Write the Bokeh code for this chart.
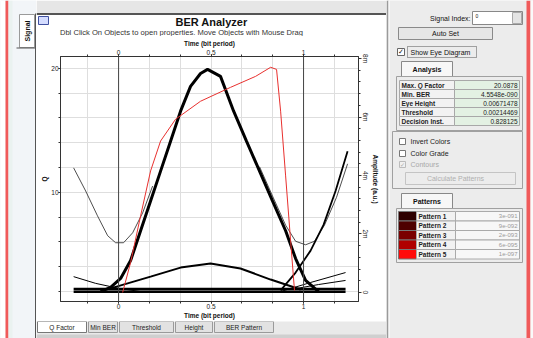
import math
from bokeh.plotting import figure
from bokeh.layouts import row, column
from bokeh.models import Range1d, LinearAxis, FixedTicker, Span
from bokeh.core.properties import value
from bokeh.embed import file_html
from bokeh.resources import INLINE

# ---------------- data ----------------
time_major = [0, 0.5, 1]
time_minor = [-2/6, -1/6, 0, 1/6, 2/6, 3/6, 4/6, 5/6, 1, 7/6, 8/6]
time_grid = [-1/6, 0, 1/6, 2/6, 3/6, 4/6, 5/6, 1, 7/6]
q_major = [10, 20]
q_minor = [2, 4, 6, 8, 10, 12, 14, 16, 18, 20]
amp_major = [0, 2, 4, 6, 8]
amp_minor = [0, 0.4, 0.8, 1.2, 1.6, 2, 2.4, 2.8, 3.2, 3.6, 4, 4.4, 4.8, 5.2, 5.6, 6, 6.4, 6.8, 7.2, 7.6, 8]
amp_labels = {0: "0", 2: "2m", 4: "4m", 6: "6m", 8: "8m"}

# eye traces: time (bit period) / amplitude (m a.u.)
pulse_t = [-0.097, -0.043, 0.011, 0.065, 0.119, 0.173, 0.227, 0.281, 0.335, 0.389, 0.443, 0.481,
           0.551, 0.622, 0.692, 0.762, 0.832, 0.903, 0.957, 1.011, 1.081]
pulse_a = [0.03, 0.17, 0.48, 1.09, 2.11, 3.13, 4.15, 5.17, 6.20, 7.05, 7.49, 7.63,
           7.39, 6.20, 5.17, 4.15, 3.13, 2.11, 1.16, 0.41, 0.03]
uleft_t = [-0.243, -0.178, -0.114, -0.059, -0.016, 0.027, 0.076, 0.130, 0.184]
uleft_a = [4.26, 3.47, 2.62, 1.94, 1.70, 1.70, 2.04, 2.72, 3.64]
uright_t = [0.762, 0.832, 0.903, 0.957, 1.011, 1.059, 1.113, 1.178, 1.238]
uright_a = [4.30, 3.30, 2.30, 1.75, 1.63, 1.75, 2.30, 3.25, 4.40]
next_t = [0.876, 0.957, 1.038, 1.108, 1.173, 1.238]
next_a = [0.07, 0.68, 1.43, 2.31, 3.47, 4.83]
hump_t = [-0.043, 0.173, 0.335, 0.497, 0.659, 0.822, 0.984]
hump_a = [0.14, 0.54, 0.85, 0.99, 0.82, 0.44, 0.10]
ltail_t = [-0.243, -0.124, 0.0, 0.119]
ltail_a = [0.54, 0.31, 0.14, 0.03]
rtail1_t = [0.876, 1.038, 1.227]
rtail1_a = [0.03, 0.34, 0.68]
rtail2_t = [0.930, 1.081, 1.227]
rtail2_a = [0.10, 0.27, 0.41]
rail_t = [-0.243, 1.227]
rail1_a = [0.12, 0.12]
rail2_a = [0.02, 0.02]

# Q factor vs time (red)
q_t = [0.022, 0.065, 0.119, 0.173, 0.227, 0.308, 0.443, 0.605, 0.741, 0.822, 0.854, 0.876, 0.903, 0.930, 0.951]
q_v = [1.93, 4.34, 8.11, 11.73, 14.14, 15.90, 17.35, 18.47, 19.36, 20.09, 19.92, 16.55, 11.33, 6.10, 2.09]

analysis_names = ["Max. Q Factor", "Min. BER", "Eye Height", "Threshold", "Decision Inst."]
analysis_values = ["20.0878", "4.5548e-090", "0.00671478", "0.00214469", "0.828125"]
pattern_names = ["Pattern 1", "Pattern 2", "Pattern 3", "Pattern 4", "Pattern 5"]
pattern_values = ["3e-091", "9e-092", "2e-093", "6e-095", "1e-097"]
pattern_colors = ["#2e0000", "#4e0000", "#7a0000", "#b00000", "#ff0a0a"]
tab_names = ["Q Factor", "Min BER", "Threshold", "Height", "BER Pattern"]

FONT = "Liberation Sans"
W, H = 533, 338
PX0, PX1 = 36, 386          # main panel columns
HEAD = 36                   # header bottom
TABS = 321                  # tabs top
FL, FR, FT, FB = 60, 358, 55, 301   # plot frame (window pixels)


def chrome(x0, x1, y0, y1, bg):
    f = figure(width=x1 - x0, height=y1 - y0, x_range=Range1d(x0, x1), y_range=Range1d(y1, y0),
               output_backend="svg", toolbar_location=None, title=None,
               x_axis_location=None, y_axis_location=None, frame_align=False,
               min_border=0, min_border_left=0, min_border_right=0, min_border_top=0, min_border_bottom=0)
    for g in f.grid:
        g.visible = False
    f.outline_line_color = None
    f.background_fill_color = bg
    f.border_fill_color = bg
    return f


def R(f, l, t, r, b, fill=None, line=None, lw=1, dash="solid"):
    f.quad(left=[l], right=[r], top=[t], bottom=[b],
           fill_color=fill, fill_alpha=1 if fill else 0,
           line_color=line, line_alpha=1 if line else 0, line_width=lw, line_dash=dash)


def T(f, s, x, y, size=7, bold=False, align="left", color="#111111", angle=0, font=FONT):
    f.text(x=[x], y=[y], text=[s], text_font=value(font), text_font_size=value(f"{size}px"),
           text_font_style="bold" if bold else "normal", text_align=align,
           text_baseline="middle", text_color=color, angle=angle)


# ---------------- left strip ----------------
lf = chrome(0, PX0, 0, H, "#f2f5f8")
R(lf, 0, 0, 5, H, fill="#ffffff")
R(lf, 5, 0, 8, H, fill="#f05a5a")
R(lf, 8, 0, 12, H, fill="#eaf2f0")
R(lf, 34.5, 13, 36, H, fill="#555555")
R(lf, 19, 14, 34, 47, fill="white", line="#9a9a9a")
R(lf, 16, 47, 34.5, 48, fill="#555555")
T(lf, "Signal", 26.5, 30.5, size=7, bold=True, align="center", angle=math.pi / 2)

# ---------------- header ----------------
hf = chrome(PX0, PX1, 0, HEAD, "white")
R(hf, PX0, 0, PX1, 12.5, fill="#e6e6e6")
R(hf, PX0, 12.5, PX1, 14.5, fill="#555555")
R(hf, 38, 16, 48, 24, fill="#d4dcff", line="#4050a0")
T(hf, "BER Analyzer", 211, 21, size=11, bold=True, align="center")
T(hf, "Dbl Click On Objects to open properties.  Move Objects with Mouse Drag", 182, 31.5,
  size=7.6, align="center", color="#333333")

# ---------------- plot ----------------
p = figure(width=PX1 - PX0, height=TABS - HEAD, output_backend="svg", toolbar_location=None, title=None,
           x_range=Range1d(-0.314, 1.297), y_range=Range1d(1.2, 20.96), frame_align=False,
           min_border_left=FL - PX0, min_border_right=PX1 - FR,
           min_border_top=FT - HEAD, min_border_bottom=TABS - FB)
p.extra_y_ranges = {"amp": Range1d(-0.31, 8.07)}
p.background_fill_color = "white"
p.border_fill_color = "white"
p.outline_line_color = "#444444"
p.outline_line_width = 1


def style(ax):
    ax.axis_line_color = "#333333"
    ax.major_tick_line_color = "#333333"
    ax.minor_tick_line_color = "#333333"
    ax.major_tick_out = 2
    ax.major_tick_in = 0
    ax.minor_tick_out = 2
    ax.minor_tick_in = 0
    ax.major_label_text_font = FONT
    ax.major_label_text_font_size = "6.5px"
    ax.major_label_text_color = "#222222"
    ax.major_label_standoff = 0
    ax.axis_label_text_font = FONT
    ax.axis_label_text_font_size = "6.5px"
    ax.axis_label_text_font_style = "bold"
    ax.axis_label_text_color = "#111111"
    ax.axis_label_standoff = 0


bottom = p.xaxis[0]
bottom.ticker = FixedTicker(ticks=time_major, minor_ticks=time_minor)
bottom.axis_label = "Time (bit period)"
style(bottom)
top = LinearAxis(ticker=FixedTicker(ticks=time_major, minor_ticks=time_minor), axis_label="Time (bit period)")
style(top)
p.add_layout(top, "above")
left = p.yaxis[0]
left.ticker = FixedTicker(ticks=q_major, minor_ticks=q_minor)
left.axis_label = "Q"
style(left)
right = LinearAxis(y_range_name="amp", ticker=FixedTicker(ticks=amp_major, minor_ticks=amp_minor),
                   axis_label="Amplitude (a.u.)")
style(right)
right.major_label_overrides = amp_labels
right.major_label_orientation = "vertical"
right.major_tick_out = 3
p.add_layout(right, "right")

p.xgrid.ticker = FixedTicker(ticks=time_grid)
p.ygrid.ticker = FixedTicker(ticks=q_minor)
p.xgrid.grid_line_color = "#dedede"
p.ygrid.grid_line_color = "#dedede"

for loc in [time_major[0], time_major[2]]:
    p.add_layout(Span(location=loc, dimension="height", line_color="#444444", line_width=1))

A = dict(y_range_name="amp", line_color="black")
p.line(rail_t, rail1_a, line_width=2.5, **A)
p.line(rail_t, rail2_a, line_width=2.5, **A)
p.line(hump_t, hump_a, line_width=2, **A)
p.line(ltail_t, ltail_a, line_width=1, **A)
p.line(rtail1_t, rtail1_a, line_width=1, **A)
p.line(rtail2_t, rtail2_a, line_width=1, **A)
p.line(uleft_t, uleft_a, line_width=1, line_alpha=0.8, y_range_name="amp", line_color="#222222")
p.line(uright_t, uright_a, line_width=1, line_alpha=0.8, y_range_name="amp", line_color="#222222")
p.line(next_t, next_a, line_width=1.8, **A)
p.line(pulse_t, pulse_a, line_width=3, **A)
p.line(q_t, q_v, line_color="#e8302e", line_width=1)

# ---------------- bottom tabs ----------------
tf = chrome(PX0, PX1, TABS, H, "#e9e9e9")
tab_edges = [(37, 86), (88, 117), (119, 173), (175, 212), (214, 273)]
for i, (name, (l, r)) in enumerate(zip(tab_names, tab_edges)):
    R(tf, l, 321, r, 332, fill="white" if i == 0 else "#e2e2e2", line="#777777" if i == 0 else "#9a9a9a")
    T(tf, name, (l + r) / 2, 326.5, size=6.5, align="center", color="#222222")
R(tf, PX0, 334, PX1, H, fill="#cfcfcf")

# ---------------- right panel ----------------
rf = chrome(PX1, W, 0, H, "#ececec")
R(rf, 386, 0, 388, H, fill="#9a9a9a")
R(rf, 388, 0, 389, H, fill="#ffffff")
R(rf, 526, 0, 530, H, fill="#f05a5a")
R(rf, 530, 0, W, H, fill="#fafafa")

T(rf, "Signal Index:", 470, 17.5, size=7, align="right")
R(rf, 472, 11, 522, 24, fill="white", line="#888888")
T(rf, "0", 475, 15, size=5)
R(rf, 512, 12, 521, 23, fill="#e4e4e4", line="#aaaaaa")
R(rf, 398, 27, 492, 39, fill="#e6e6e6", line="#8a8a8a")
T(rf, "Auto Set", 445, 33, size=7, align="center")
R(rf, 397, 48, 404, 55, fill="white", line="#666666")
T(rf, "\u2713", 400.5, 51.5, size=7, align="center", font="DejaVu Sans")
R(rf, 407, 46, 476, 57, line="#555555", dash="1 1")
T(rf, "Show Eye Diagram", 410, 51.5, size=7)

R(rf, 401, 61, 452, 76, fill="#f7f7f7", line="#888888")
T(rf, "Analysis", 426.5, 68.5, size=7, bold=True, align="center")
R(rf, 396, 76, 522, 130, line="#a0a0a0")
for i, (n, v) in enumerate(zip(analysis_names, analysis_values)):
    t0 = 80 + 9 * i
    R(rf, 399, t0, 454, t0 + 9, fill="#f2f2f2", line="#a8a8a8")
    R(rf, 454, t0, 519, t0 + 9, fill="#e3f1e3", line="#a8a8a8")
    T(rf, n, 401, t0 + 4.5, size=6.5, bold=True, color="#222222")
    T(rf, v, 517, t0 + 4.5, size=6.5, align="right", color="#222222")

R(rf, 392, 131, 522, 188, line="#a0a0a0")
checks = [("Invert Colors", 141, False, True), ("Color Grade", 153, False, True), ("Contours", 164, True, False)]
for name, y, checked, enabled in checks:
    R(rf, 399, y - 3, 405, y + 3, fill="white" if enabled else "#f0f0f0",
      line="#777777" if enabled else "#bbbbbb")
    if checked:
        T(rf, "\u2713", 402, y, size=6, align="center", color="#aaaaaa", font="DejaVu Sans")
    T(rf, name, 410, y, size=7, color="#222222" if enabled else "#a8a8a8")
R(rf, 405, 172, 515, 184, fill="#ececec", line="#c4c4c4")
T(rf, "Calculate Patterns", 455, 178, size=7, align="center", color="#b0b0b0")

R(rf, 401, 193, 452, 208, fill="#f7f7f7", line="#888888")
T(rf, "Patterns", 426.5, 200.5, size=7, bold=True, align="center")
R(rf, 396, 208, 522, 262, line="#a0a0a0")
for i, (n, v, c) in enumerate(zip(pattern_names, pattern_values, pattern_colors)):
    t0 = 211 + 9.5 * i
    R(rf, 398, t0, 416, t0 + 9.5, fill=c, line="#777777")
    R(rf, 416, t0, 455, t0 + 9.5, fill="#f2f2f2", line="#aaaaaa")
    R(rf, 455, t0, 519, t0 + 9.5, fill="#f7f7f7", line="#aaaaaa")
    T(rf, n, 418, t0 + 4.75, size=6.5, bold=True, color="#222222")
    T(rf, v, 517, t0 + 4.75, size=6, align="right", color="#9a9a9a")

layout = row(lf, column(hf, p, tf, spacing=0), rf, spacing=0)
open("out.html", "w").write(file_html(layout, INLINE))
